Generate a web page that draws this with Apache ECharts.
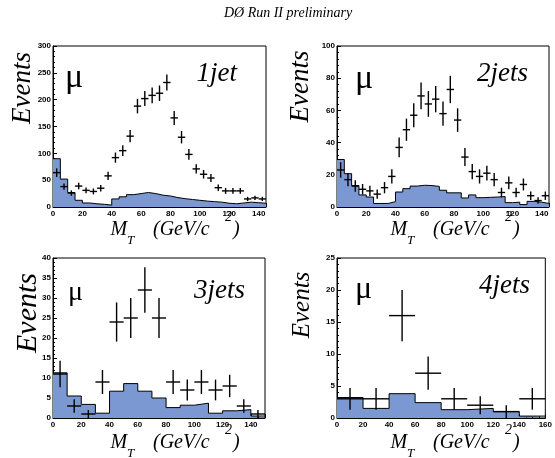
<!DOCTYPE html>
<html>
<head>
<meta charset="utf-8">
<script src="https://cdn.jsdelivr.net/npm/echarts@6/dist/echarts.min.js"></script>
<style>
  html, body { margin: 0; padding: 0; background: #fff; }
  #main { width: 555px; height: 458px; }
</style>
</head>
<body>
<div id="main"></div>
<script>
// W transverse mass, muon channel, split by jet multiplicity
const jetLabels = ['1jet', '2jets', '3jets', '4jets']
const binWidths = [5, 5, 10, 20]
const xMaxes = [145, 145, 150, 160]
const yMaxes = [300, 100, 40, 25]
const yIntervals = [50, 20, 5, 5]

// filled histogram (background expectation)
const hist1jet = [90, 52, 27, 12.5, 7.5, 6, 5, 3.5, 15, 19, 23, 25, 27, 25, 22, 20.5, 17.5, 15.5, 14, 12.5, 11, 10, 9, 7, 6, 7.5, 9, 8, 7]
const hist2jets = [29.5, 20.7, 13.3, 7.5, 6.2, 2.2, 2.2, 3.3, 9.3, 11.4, 13, 13.5, 13.3, 12.8, 10.4, 8.8, 8.8, 5.6, 7.5, 5.8, 6, 6.2, 6.5, 2.7, 3, 1.5, 3.5, 3, 2.2]
const hist3jets = [11.3, 5.5, 3.4, 1.2, 6.7, 8.6, 6.7, 5, 2.6, 3.2, 3.7, 1.2, 1.8, 2.1, 0.5]
const hist4jets = [3.2, 1.5, 3.8, 2.4, 1.3, 1.5, 1, 0.3]

// data points and their error bars
const data1jet = [64, 38, 26, 39, 31, 29, 35, 58, 92, 105, 132, 188, 202, 208, 212, 232, 166, 130, 98, 71, 61, 54, 36, 30, 30, 30, 15, 17, 15]
const err1jet = [8, 6, 5, 6, 5.5, 5.5, 6, 7.5, 9.5, 10, 11.5, 13.5, 14, 14.5, 14.5, 15, 13, 11.5, 10, 8.5, 8, 7.5, 6, 5.5, 5.5, 5.5, 4, 4, 4]
const data2jets = [23, 17, 13, 11, 10, 8, 12, 19, 37, 48, 57, 69, 64, 67, 58, 73, 54, 31, 22, 19, 21, 17, 9, 15, 9, 14, 7, 4, 7]
const err2jets = [4.8, 4.1, 3.6, 3.3, 3.2, 2.8, 3.5, 4.4, 6.1, 6.9, 7.5, 8.3, 8, 8.2, 7.6, 8.5, 7.3, 5.6, 4.7, 4.4, 4.6, 4.1, 3, 3.9, 3, 3.7, 2.6, 2, 2.6]
const data3jets = [11, 3, 1, 9, 24, 25, 32, 25, 9, 7, 9, 7, 8, 3, 1]
const err3jets = [3.3, 1.7, 1, 3, 4.9, 5, 5.7, 5, 3, 2.6, 3, 2.6, 2.8, 1.7, 1]
const data4jets = [3, 3, 16, 7, 3, 2, 1, 3]
const err4jets = [1.7, 1.7, 4, 2.6, 1.7, 1.4, 1, 1.7]

const hists = [hist1jet, hist2jets, hist3jets, hist4jets]
const points = [data1jet, data2jets, data3jets, data4jets]
const errors = [err1jet, err2jets, err3jets, err4jets]

const grids = [
  { left: 53, top: 46, width: 213, height: 161 },
  { left: 337, top: 46, width: 212, height: 161 },
  { left: 53, top: 258, width: 212, height: 160 },
  { left: 337, top: 258, width: 211, height: 160 }
]
// per-panel text placement, relative to the grid (the pads were pasted at slightly different scales)
const eventsPos = [[-30.5, 42, 27], [-36, 40.5, 27], [-24.5, 55, 30], [-34.5, 47, 25]]
const muPos = [[12, 32, 34], [18, 33, 34], [15, 35, 28], [18, 32, 32]]
const jetPos = [[-29, 28], [-21, 28], [-20, 33], [-18, 28]]
const xTitleShift = [[0, 0], [-4, 0], [0, 2], [-4, 2]]

const serif = '"Liberation Serif", "DejaVu Serif", serif'
const sans = '"Liberation Sans", Arial, sans-serif'
const fillColor = '#7b98d2'

const chart = echarts.init(document.getElementById('main'), null, { renderer: 'canvas' })

function histData (k) {
  // step outline: one point per lower bin edge, plus the closing edge
  const w = binWidths[k]
  const out = hists[k].map((v, i) => [i * w, v])
  out.push([hists[k].length * w, hists[k][hists[k].length - 1]])
  return out
}

function pointData (k) {
  const w = binWidths[k]
  return points[k].map((v, i) => [(i + 0.5) * w, v, errors[k][i]])
}

function errorRenderer (halfWidth) {
  return function (params, api) {
    const x = api.value(0)
    const y = api.value(1)
    const e = api.value(2)
    const l = api.coord([x - halfWidth, y])
    const r = api.coord([x + halfWidth, y])
    const t = api.coord([x, y + e])
    const b = api.coord([x, Math.max(0, y - e)])
    const style = { stroke: '#000', lineWidth: 1.4 }
    return {
      type: 'group',
      children: [
        { type: 'line', shape: { x1: l[0], y1: l[1], x2: r[0], y2: r[1] }, style: style },
        { type: 'line', shape: { x1: t[0], y1: t[1], x2: b[0], y2: b[1] }, style: style }
      ]
    }
  }
}

function txt (x, y, text, font, align) {
  return {
    type: 'text', x: x, y: y,
    style: { text: text, font: font, fill: '#000', textAlign: align || 'left', textVerticalAlign: 'middle' }
  }
}

const xAxis = []
const yAxis = []
const series = []
const graphic = []

grids.forEach((g, k) => {
  xAxis.push({
    type: 'value', gridIndex: k, min: 0, max: xMaxes[k], interval: 20,
    axisLine: { show: true, lineStyle: { color: '#000', width: 1 } },
    axisTick: { show: true, inside: true, length: 4, lineStyle: { color: '#000' } },
    minorTick: { show: true, splitNumber: 4, length: 2, lineStyle: { color: '#000' } },
    splitLine: { show: false },
    // only the 4jets axis ends on a round tick (160)
    axisLabel: { showMaxLabel: xMaxes[k] % 20 === 0, margin: 3, fontSize: 8, fontWeight: 'bold', color: '#000', fontFamily: sans }
  })
  yAxis.push({
    type: 'value', gridIndex: k, min: 0, max: yMaxes[k], interval: yIntervals[k],
    axisLine: { show: true, lineStyle: { color: '#000', width: 1 } },
    axisTick: { show: true, inside: true, length: 4, lineStyle: { color: '#000' } },
    minorTick: { show: true, splitNumber: 5, length: 2, lineStyle: { color: '#000' } },
    splitLine: { show: false },
    axisLabel: { margin: 2, fontSize: 8, fontWeight: 'bold', color: '#000', fontFamily: sans }
  })
  series.push({
    type: 'line', xAxisIndex: k, yAxisIndex: k, step: 'end', symbol: 'none',
    data: histData(k),
    lineStyle: { color: '#000', width: 1 },
    areaStyle: { color: fillColor, opacity: 1 },
    silent: true, z: 2
  })
  series.push({
    type: 'custom', xAxisIndex: k, yAxisIndex: k, clip: true,
    renderItem: errorRenderer(binWidths[k] / 2),
    data: pointData(k), z: 3
  })

  const right = g.left + g.width
  const bottom = g.top + g.height
  const ev = eventsPos[k]
  const ts = txt(g.left + ev[0], g.top + ev[1], 'Events', 'italic ' + ev[2] + 'px ' + serif, 'center')
  ts.rotation = Math.PI / 2
  graphic.push(ts)
  const mu = muPos[k]
  graphic.push(txt(g.left + mu[0], g.top + mu[1], 'μ', mu[2] + 'px ' + serif))
  graphic.push(txt(right + jetPos[k][0], g.top + jetPos[k][1], jetLabels[k], 'italic 27px ' + serif, 'right'))

  // M_T (GeV/c^2), pieced together so sub/superscripts sit right
  const x0 = g.left + xTitleShift[k][0]
  const y0 = bottom + xTitleShift[k][1]
  graphic.push(txt(x0 + 57.5, y0 + 23, 'M', 'italic 20px ' + serif))
  graphic.push(txt(x0 + 74, y0 + 33.5, 'T', 'italic 13px ' + serif))
  graphic.push(txt(x0 + 100, y0 + 23, '(GeV/c', 'italic 20px ' + serif))
  graphic.push(txt(x0 + 172, y0 + 10, '2', 'italic 14px ' + serif))
  graphic.push(txt(x0 + 180, y0 + 23, ')', 'italic 20px ' + serif))
})

graphic.push(txt(288, 13, 'DØ Run II preliminary', 'italic 14px ' + serif, 'center'))

const option = {
  backgroundColor: '#fff',
  animation: false,
  grid: grids.map(g => Object.assign({ show: true, borderColor: '#000', borderWidth: 1, backgroundColor: 'transparent' }, g)),
  xAxis: xAxis,
  yAxis: yAxis,
  series: series,
  graphic: graphic
}
chart.setOption(option)
</script>
</body>
</html>
